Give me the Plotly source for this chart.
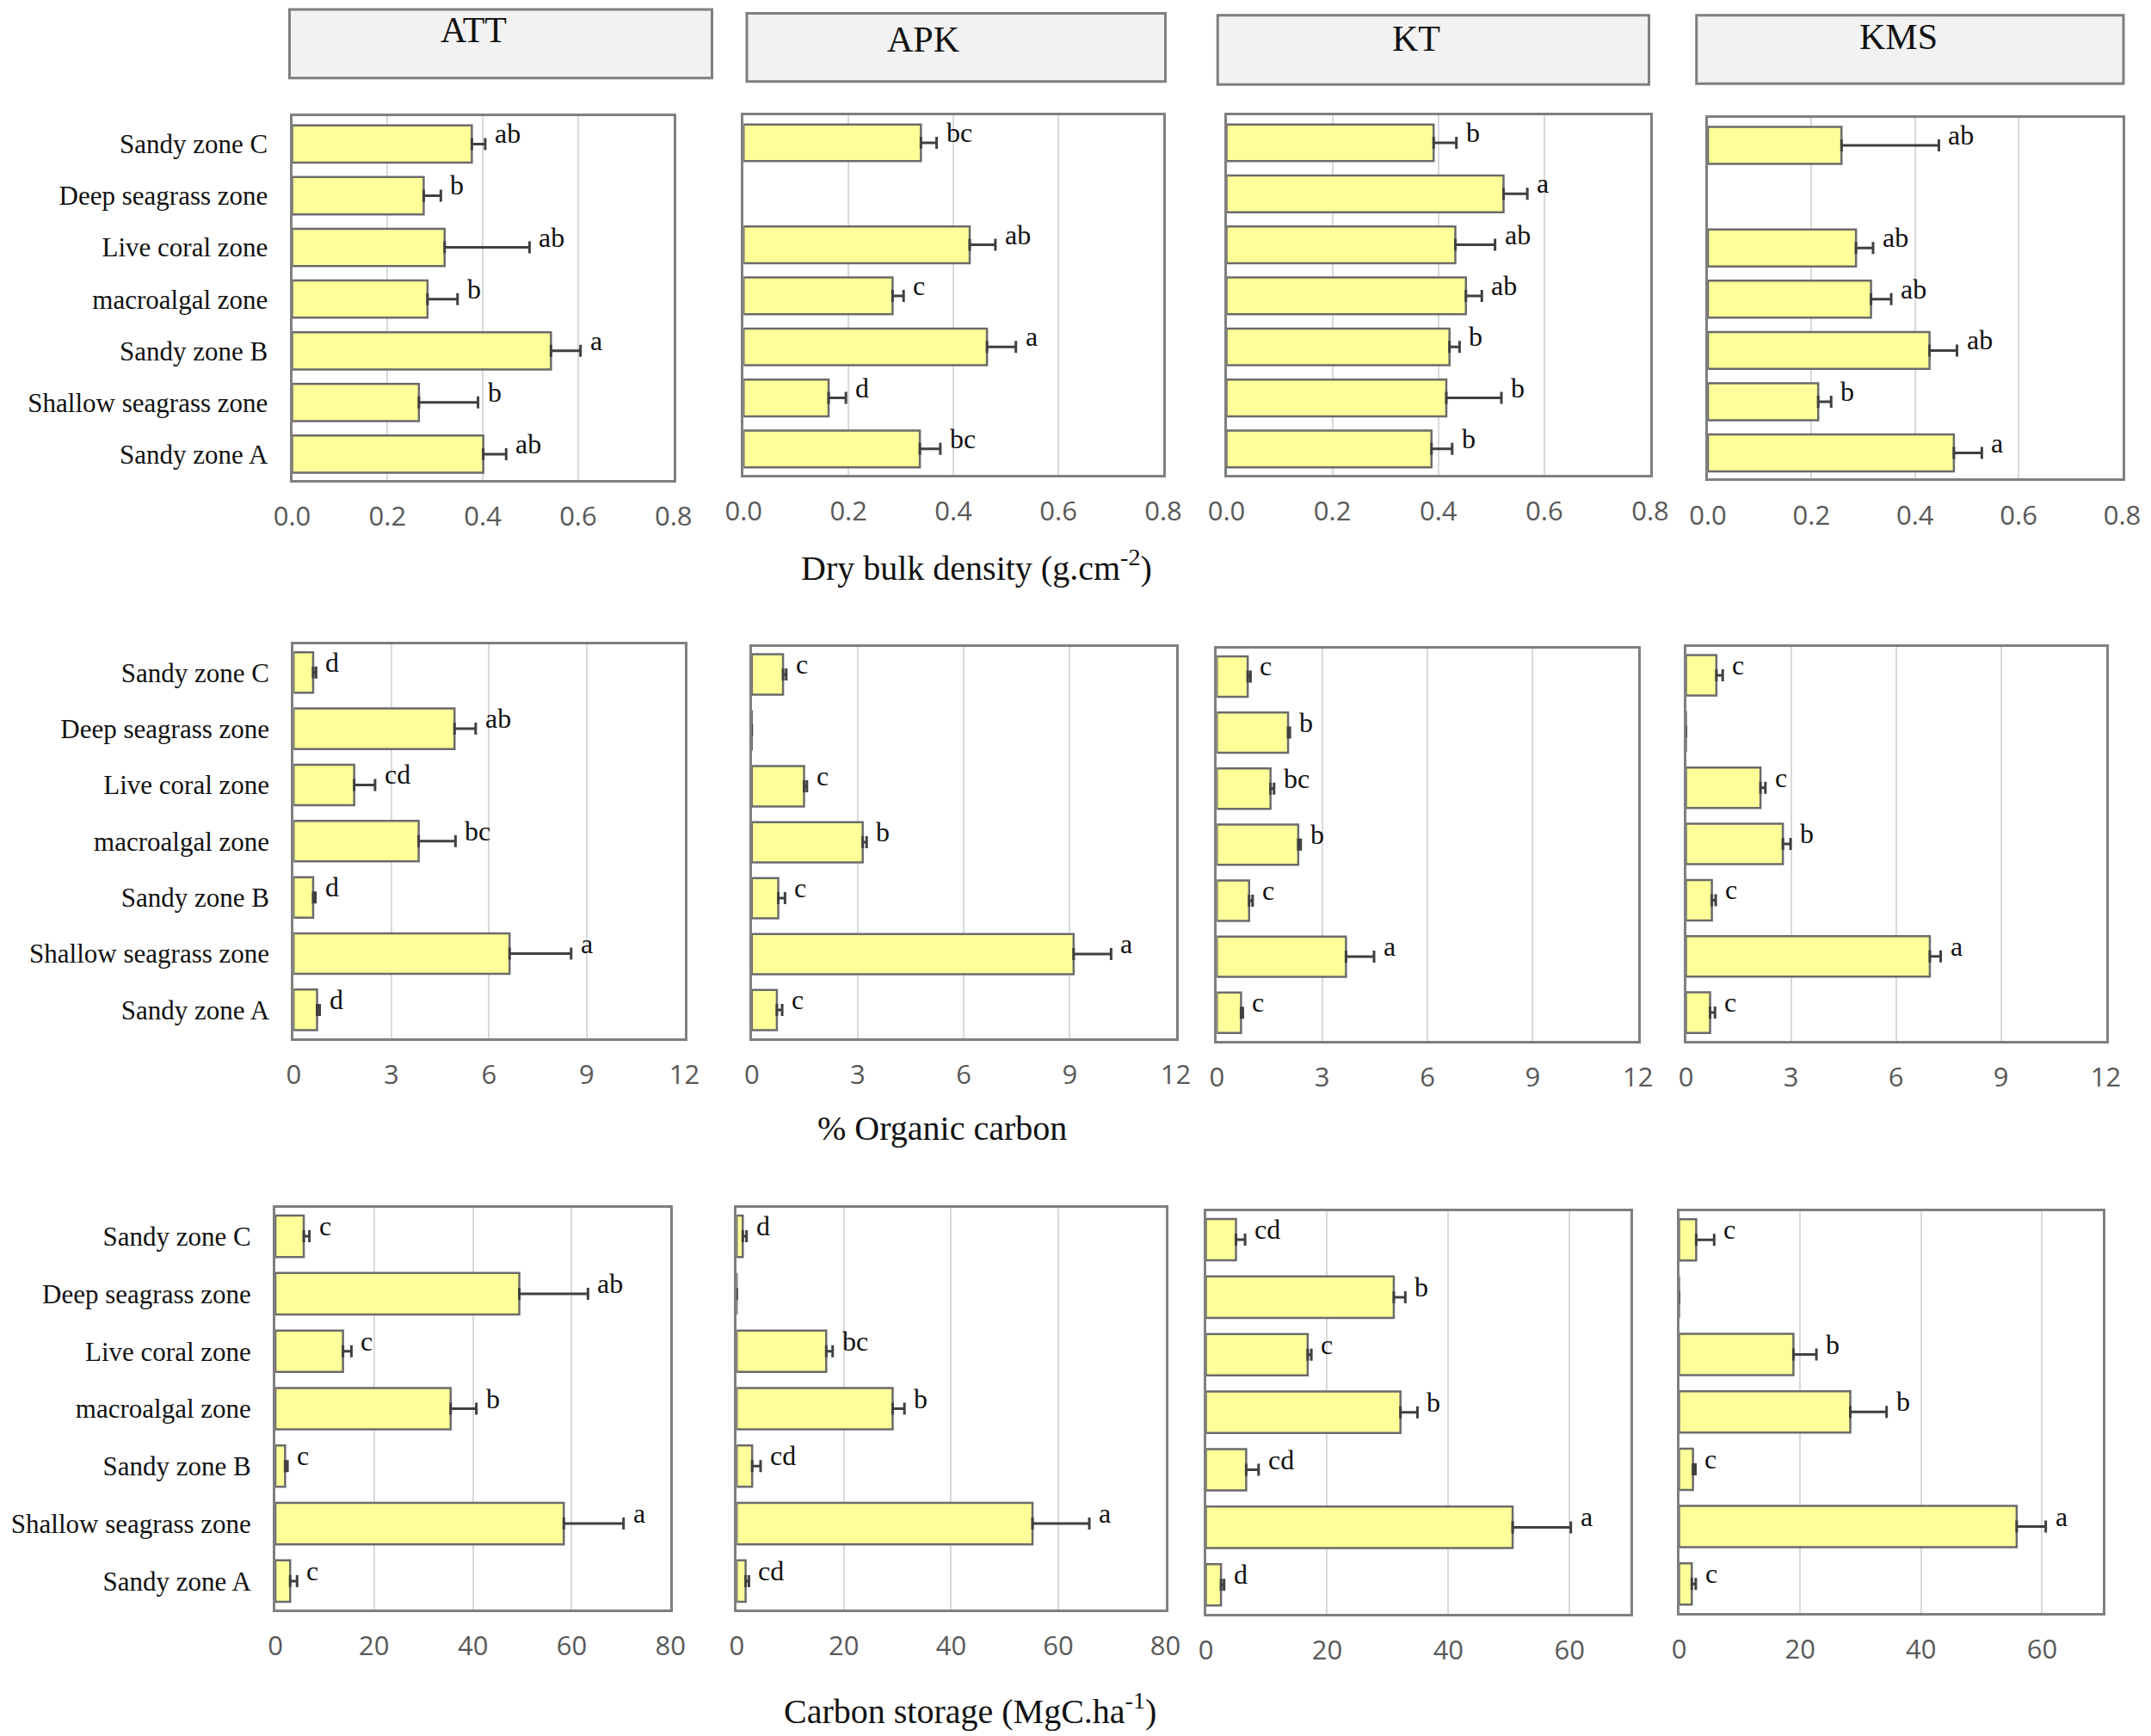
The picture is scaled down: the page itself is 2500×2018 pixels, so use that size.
import plotly.graph_objects as go

# Categories listed bottom -> top (as drawn by a horizontal bar axis)
categories = ["Sandy zone A", "Shallow seagrass zone", "Sandy zone B", "macroalgal zone",
              "Live coral zone", "Deep seagrass zone", "Sandy zone C"]
sites = ["ATT", "APK", "KT", "KMS"]

# ---- Dry bulk density (g.cm-2) ----
dbd_att = [0.401, 0.266, 0.543, 0.284, 0.320, 0.276, 0.377]
dbd_att_err = [0.048, 0.124, 0.062, 0.063, 0.178, 0.036, 0.028]
dbd_att_lbl = ["ab", "b", "a", "b", "ab", "b", "ab"]
dbd_apk = [0.336, 0.162, 0.464, 0.284, 0.431, None, 0.338]
dbd_apk_err = [0.039, 0.033, 0.055, 0.021, 0.049, None, 0.030]
dbd_apk_lbl = ["bc", "d", "a", "c", "ab", "", "bc"]
dbd_kt = [0.387, 0.415, 0.421, 0.452, 0.432, 0.523, 0.391]
dbd_kt_err = [0.039, 0.104, 0.019, 0.030, 0.075, 0.045, 0.043]
dbd_kt_lbl = ["b", "b", "b", "ab", "ab", "a", "b"]
dbd_kms = [0.475, 0.213, 0.428, 0.315, 0.286, None, 0.258]
dbd_kms_err = [0.054, 0.025, 0.053, 0.039, 0.033, None, 0.188]
dbd_kms_lbl = ["a", "b", "ab", "ab", "ab", "", "ab"]

# ---- % Organic carbon ----
oc_att = [0.72, 6.63, 0.60, 3.84, 1.86, 4.94, 0.60]
oc_att_err = [0.08, 1.89, 0.07, 1.13, 0.64, 0.65, 0.09]
oc_att_lbl = ["d", "a", "d", "bc", "cd", "ab", "d"]
oc_apk = [0.71, 9.11, 0.75, 3.14, 1.48, 0, 0.885]
oc_apk_err = [0.15, 1.06, 0.19, 0.11, 0.08, 0, 0.09]
oc_apk_lbl = ["c", "a", "c", "b", "c", "", "c"]
oc_kt = [0.69, 3.68, 0.92, 2.32, 1.53, 2.03, 0.88]
oc_kt_err = [0.05, 0.80, 0.10, 0.07, 0.10, 0.05, 0.08]
oc_kt_lbl = ["c", "a", "c", "b", "bc", "b", "c"]
oc_kms = [0.69, 6.97, 0.74, 2.77, 2.13, 0, 0.87]
oc_kms_err = [0.14, 0.31, 0.11, 0.22, 0.14, 0, 0.18]
oc_kms_lbl = ["c", "a", "c", "b", "c", "", "c"]

# ---- Carbon storage (MgC.ha-1) ----
cs_att = [3.0, 58.4, 1.98, 35.5, 13.7, 49.4, 5.76]
cs_att_err = [1.4, 12.1, 0.48, 5.2, 1.7, 13.9, 1.14]
cs_att_lbl = ["c", "a", "c", "b", "c", "ab", "c"]
cs_apk = [1.66, 55.2, 2.88, 29.1, 16.7, 0, 1.13]
cs_apk_err = [0.61, 10.6, 1.57, 2.2, 1.2, 0, 0.70]
cs_apk_lbl = ["cd", "a", "cd", "b", "bc", "", "d"]
cs_kt = [2.5, 50.6, 6.65, 32.1, 16.8, 31.0, 4.97]
cs_kt_err = [0.5, 9.6, 2.05, 2.8, 0.6, 1.9, 1.5]
cs_kt_lbl = ["d", "a", "cd", "b", "c", "b", "cd"]
cs_kms = [2.1, 55.8, 2.3, 28.3, 18.9, 0, 2.83]
cs_kms_err = [0.66, 4.8, 0.4, 6.0, 3.8, 0, 2.97]
cs_kms_lbl = ["c", "a", "c", "b", "b", "", "c"]

row_titles = ["Dry bulk density (g.cm<sup>-2</sup>)", "% Organic carbon",
              "Carbon storage (MgC.ha<sup>-1</sup>)"]
row_ranges = [[[0, 0.8]] * 4, [[0, 12]] * 4, [[0, 80], [0, 80], [0, 70], [0, 70]]]
row_ticks = [[0, 0.2, 0.4, 0.6, 0.8], [0, 3, 6, 9, 12], [0, 20, 40, 60, 80]]
row_ticktext = [["0.0", "0.2", "0.4", "0.6", "0.8"], ["0", "3", "6", "9", "12"],
                ["0", "20", "40", "60", "80"]]

data = [
    [(dbd_att, dbd_att_err, dbd_att_lbl), (dbd_apk, dbd_apk_err, dbd_apk_lbl),
     (dbd_kt, dbd_kt_err, dbd_kt_lbl), (dbd_kms, dbd_kms_err, dbd_kms_lbl)],
    [(oc_att, oc_att_err, oc_att_lbl), (oc_apk, oc_apk_err, oc_apk_lbl),
     (oc_kt, oc_kt_err, oc_kt_lbl), (oc_kms, oc_kms_err, oc_kms_lbl)],
    [(cs_att, cs_att_err, cs_att_lbl), (cs_apk, cs_apk_err, cs_apk_lbl),
     (cs_kt, cs_kt_err, cs_kt_lbl), (cs_kms, cs_kms_err, cs_kms_lbl)],
]

# ---- layout geometry (paper fractions) ----
xdom = [
    [[0.1358, 0.3131], [0.3457, 0.5408], [0.5702, 0.7672], [0.7940, 0.9866]],
    [[0.1365, 0.3182], [0.3495, 0.5466], [0.5657, 0.7615], [0.7838, 0.9790]],
    [[0.1280, 0.3117], [0.3425, 0.5418], [0.5606, 0.7579], [0.7806, 0.9775]],
]
ydom = [
    [[0.7235, 0.9329], [0.7267, 0.9336], [0.7267, 0.9336], [0.7243, 0.9321]],
    [[0.4021, 0.6288], [0.4021, 0.6276], [0.4005, 0.6264], [0.4005, 0.6272]],
    [[0.0727, 0.3044], [0.0727, 0.3044], [0.0705, 0.3025], [0.0711, 0.3023]],
]
strip_x = [[0.1346, 0.3310], [0.3472, 0.5418], [0.5661, 0.7666], [0.7887, 0.9872]]
strip_y = [[0.9550, 0.9945], [0.9531, 0.9923], [0.9513, 0.9912], [0.9518, 0.9912]]
strip_tx = [0.2200, 0.4292, 0.6582, 0.8827]
strip_ty = [0.9826, 0.9771, 0.9779, 0.9787]
title_pos = [(0.454, 0.674), (0.438, 0.350), (0.451, 0.0158)]

SERIF = "Liberation Serif, Times New Roman, serif"
SANS = "Open Sans, Noto Sans, sans-serif"
FRAME = "#7f7f7f"

fig = go.Figure()
layout = dict(width=2500, height=2018, margin=dict(l=0, r=0, t=0, b=0, pad=0),
              autosize=False, template="none",
              paper_bgcolor="white", plot_bgcolor="white", showlegend=False,
              bargap=0.28, annotations=[], shapes=[])

k = 0
for r in range(3):
    for c in range(4):
        k += 1
        xa = "x" if k == 1 else f"x{k}"
        ya = "y" if k == 1 else f"y{k}"
        vals, errs, lbls = data[r][c]
        fig.add_trace(go.Bar(
            x=vals, y=categories, orientation="h", xaxis=xa, yaxis=ya,
            marker=dict(color="#FFFF99", line=dict(color="#6b6b6b", width=2.5)),
            error_x=dict(type="data", array=errs, symmetric=False,
                         arrayminus=[0 if e is not None else None for e in errs],
                         color="#404040", thickness=3, width=7),
            hoverinfo="x+y",
        ))
        rng = row_ranges[r][c]
        tv = [t for t in row_ticks[r] if t <= rng[1] + 1e-9]
        tt = [row_ticktext[r][i] for i, t in enumerate(row_ticks[r]) if t <= rng[1] + 1e-9]
        xname = "xaxis" if k == 1 else f"xaxis{k}"
        yname = "yaxis" if k == 1 else f"yaxis{k}"
        layout[xname] = dict(
            domain=xdom[r][c], anchor=ya, range=rng, tickvals=tv, ticktext=tt,
            automargin=False,
            showgrid=True, gridcolor="#d9d9d9", gridwidth=2, zeroline=False,
            showline=True, mirror=True, linecolor=FRAME, linewidth=3,
            ticks="", ticklabelstandoff=13,
            tickfont=dict(family=SANS, size=31, color="#595959"),
        )
        layout[yname] = dict(
            domain=ydom[r][c], anchor=xa, type="category",
            categoryorder="array", categoryarray=categories,
            automargin=False,
            showgrid=False, zeroline=False, showline=True, mirror=True,
            linecolor=FRAME, linewidth=3, ticks="",
            showticklabels=(c == 0), ticklabelstandoff=19,
            tickfont=dict(family=SERIF, size=31, color="#111111"),
        )
        # significance letters
        for v, e, lab, cat in zip(vals, errs, lbls, categories):
            if v is None or not lab:
                continue
            layout["annotations"].append(dict(
                x=v + (e or 0), y=cat, xref=xa, yref=ya, text=lab, showarrow=False,
                xanchor="left", yanchor="middle", xshift=9, yshift=12,
                font=dict(family=SERIF, size=32, color="#111111"),
            ))

# strip headers
for i, s in enumerate(sites):
    layout["shapes"].append(dict(
        type="rect", xref="paper", yref="paper",
        x0=strip_x[i][0], x1=strip_x[i][1], y0=strip_y[i][0], y1=strip_y[i][1],
        fillcolor="#f2f2f2", line=dict(color=FRAME, width=3), layer="below"))
    layout["annotations"].append(dict(
        x=strip_tx[i], y=strip_ty[i], xref="paper", yref="paper", text=s,
        showarrow=False, xanchor="center", yanchor="middle",
        font=dict(family=SERIF, size=42, color="#111111")))

# row axis titles
for t, (px, py) in zip(row_titles, title_pos):
    layout["annotations"].append(dict(
        x=px, y=py, xref="paper", yref="paper", text=t, showarrow=False,
        xanchor="center", yanchor="middle",
        font=dict(family=SERIF, size=40, color="#111111")))

fig.update_layout(**layout)
fig.write_html("out.html", config={"displayModeBar": False},
               post_script="document.body.style.margin='0';document.body.style.overflow='hidden';")
